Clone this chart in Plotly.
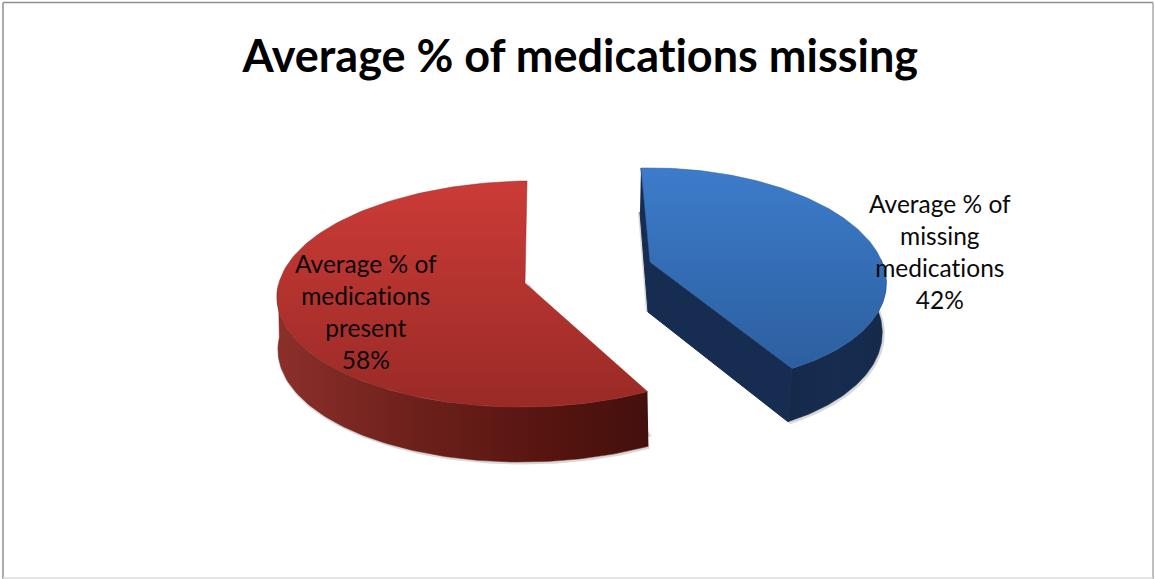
import numpy as np
import plotly.graph_objects as go

title = "Average % of medications missing"
categories = ["Average % of<br>missing<br>medications", "Average % of<br>medications<br>present"]
values = [42, 58]
top_scales = [[[0, "#3d7ccb"], [1, "#2c5f9f"]], [[0, "#cc3b37"], [1, "#992a26"]]]
wall_scales = [[[0, "#15294a"], [0.5, "#162c50"], [1, "#15294a"]],
               [[0, "#8c2f2b"], [0.35, "#6f211c"], [0.75, "#55140f"], [1, "#43100d"]]]
inner_color = "#162c50"
# ellipse geometry per slice: cx, cy, a, b, shear, tilt, apex, depth back, depth front, dx
geom = [
    dict(cx=665, cy=276, a=220, b=108, s=24, k=-4.6, apex=(650, 262), d0=44, d1=54, dx=-4),
    dict(cx=527, cy=294, a=250, b=113, s=0, k=-3, apex=(525, 283), d0=50, d1=55, dx=1),
]
label_pos = [(940, 251), (366, 311)]
text_font = "Lato, Carlito, Calibri, sans-serif"
SHADOW = "rgba(120,120,120,0.28)"

total = sum(values)
starts = np.cumsum([0] + values[:-1]) / total * 2 * np.pi
sweeps = np.array(values) / total * 2 * np.pi


def top_xy(g, t):
    return (g["cx"] + g["a"] * np.sin(t) - g["s"] * np.cos(t),
            g["cy"] - g["b"] * np.cos(t) + g["k"] * np.sin(t))


def drop(g, t):
    return g["d0"] + (g["d1"] - g["d0"]) * (1 - np.cos(t)) / 2


fig = go.Figure()
for i, g in enumerate(geom):
    t = np.linspace(starts[i], starts[i] + sweeps[i], 160)
    x, y = top_xy(g, t)
    bx, by = x + g["dx"], y + drop(g, t)
    ax, ay = g["apex"]

    vis = np.cos(t) < 0.12
    px = np.r_[x[vis], bx[vis][::-1]]
    py = np.r_[y[vis], by[vis][::-1]]
    fig.add_trace(go.Scatter(x=bx[vis] + 1, y=by[vis] + 1, mode="lines", line=dict(color=SHADOW, width=3),
                             hoverinfo="skip", showlegend=False))
    if i == 0:
        qx = [x[0], ax, x[-1], bx[-1], ax - 2, x[0] - 1]
        qy = [y[0], ay, y[-1], by[-1], ay + 50, y[0] + 44]
        fig.add_trace(go.Scatter(x=[ax - 3, x[0] - 2], y=[ay + 50, y[0] + 44], mode="lines",
                                 line=dict(color=SHADOW, width=2), hoverinfo="skip", showlegend=False))
        fig.add_trace(go.Scatter(x=qx, y=qy, mode="lines", fill="toself", fillcolor=inner_color,
                                 line=dict(color=inner_color, width=1), hoverinfo="skip", showlegend=False))
    else:
        fig.add_trace(go.Scatter(x=[x[0] + 3, ax + 3], y=[y[0] + 45, ay + 2], mode="lines",
                                 line=dict(color=SHADOW, width=3), hoverinfo="skip", showlegend=False))
    fig.add_trace(go.Scatter(x=px, y=py, mode="lines", fill="toself",
                             fillgradient=dict(type="horizontal", colorscale=wall_scales[i],
                                               start=float(px.min()), stop=float(px.max())),
                             line=dict(color=wall_scales[i][1][1], width=0.5),
                             hoverinfo="skip", showlegend=False))
    tx = np.r_[ax, x, ax]
    ty = np.r_[ay, y, ay]
    fig.add_trace(go.Scatter(x=tx, y=ty, mode="lines", fill="toself",
                             fillgradient=dict(type="vertical", colorscale=top_scales[i],
                                               start=float(ty.min()), stop=float(ty.max())),
                             line=dict(color=top_scales[i][1][1], width=0.5),
                             hoverinfo="skip", showlegend=False))
    lx, ly = label_pos[i]
    fig.add_annotation(x=lx, y=ly, text=f"{categories[i]}<br>{values[i]}%", showarrow=False,
                       font=dict(family=text_font, size=24.5, color="#0a0a0a"), align="center")

fig.add_annotation(x=579, y=55, text=f"<b>{title}</b>", showarrow=False,
                   font=dict(family=text_font, size=45, color="#000000"))
frame = [(3, 2.5, 1153, 2.5, "#8f8f8f"), (3, 2.5, 3, 579, "#8f8f8f"),
         (1153, 2.5, 1153, 579, "#a8a8a8"), (3, 578, 1153, 578, "#dcdcdc")]
for x0, y0, x1, y1, c in frame:
    fig.add_shape(type="line", x0=x0, y0=y0, x1=x1, y1=y1, line=dict(color=c, width=1.5), layer="below")

fig.update_xaxes(visible=False, range=[0, 1155], fixedrange=True)
fig.update_yaxes(visible=False, range=[579, 0], fixedrange=True)
fig.update_layout(width=1155, height=579, margin=dict(l=0, r=0, t=0, b=0),
                  paper_bgcolor="white", plot_bgcolor="white", showlegend=False)
page_fix = ("document.body.style.margin='0';document.documentElement.style.overflow='hidden';"
            "var s=document.createElement('style');s.textContent='svg text{font-variant-ligatures:none !important}';"
            "document.head.appendChild(s);")
fig.write_html("out.html", config=dict(displayModeBar=False), post_script=page_fix)
